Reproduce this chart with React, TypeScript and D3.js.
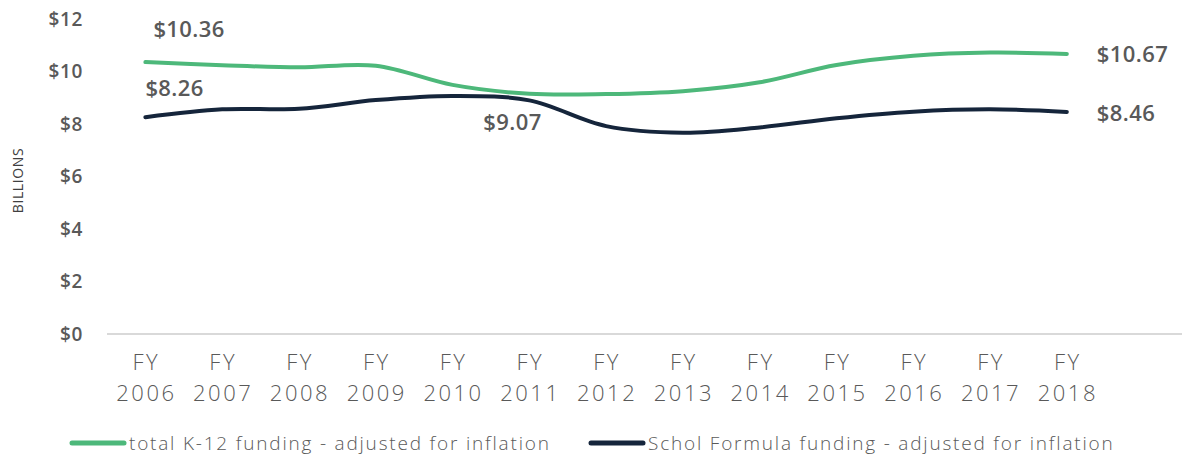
import React from "react";
import * as d3 from "d3";

const years = ["2006","2007","2008","2009","2010","2011","2012","2013","2014","2015","2016","2017","2018"];
const totalK12 = [10.36, 10.24, 10.16, 10.22, 9.49, 9.15, 9.14, 9.25, 9.59, 10.25, 10.6, 10.72, 10.67];
const schoolFormula = [8.26, 8.56, 8.58, 8.91, 9.07, 8.9, 7.92, 7.67, 7.87, 8.22, 8.47, 8.56, 8.46];
const yTicks = [0, 2, 4, 6, 8, 10, 12];
const seriesNames = ["total K-12 funding - adjusted for inflation", "Schol Formula funding - adjusted for inflation"];
const colors = ["#4DB87A", "#15253B"];

const W = 1183, H = 457;
const plotLeft = 107, plotRight = 1182, yTop = 19, yBottom = 334;
const FONT = "'Open Sans', sans-serif";
const GRAY = "#595959";

export default function App() {
  const slots = [...years, "_pad"];
  const x = d3.scaleBand<string>().domain(slots).range([plotLeft, plotRight]);
  const cx = (yr: string) => (x(yr) as number) + x.bandwidth() / 2;
  const y = d3.scaleLinear().domain([0, 12]).range([yBottom, yTop]);
  const line = d3.line<number>()
    .x((_, i) => cx(years[i]))
    .y((v) => y(v))
    .curve(d3.curveCatmullRom.alpha(0.5));

  const series = [totalK12, schoolFormula];
  const fmt = (v: number) => "$" + v.toFixed(2);
  const last = years.length - 1;

  return (
    <svg width={W} height={H} style={{ position: "absolute", left: 0, top: 0, background: "#fff" }}>
      <line x1={plotLeft} x2={plotRight} y1={y(0)} y2={y(0)} stroke="#D9D9D9" strokeWidth={2} />
      {yTicks.map((t) => (
        <text key={t} x={83} y={y(t)} dy="0.35em" textAnchor="end" fontFamily={FONT} fontSize={19} fontWeight={600} letterSpacing={0.6} fill={GRAY}>
          {"$" + t}
        </text>
      ))}
      <text transform={`translate(23,${(yTop + yBottom) / 2 + 4}) rotate(-90)`} textAnchor="middle" fontFamily={FONT} fontSize={14} letterSpacing={0.6} fill="#404040">
        BILLIONS
      </text>
      {years.map((yr) => (
        <g key={yr} fontFamily={FONT} fontSize={22} fontWeight={300} fill={GRAY} textAnchor="middle" letterSpacing={2.5}>
          <text x={cx(yr) + 1} y={y(0) + 36}>FY</text>
          <text x={cx(yr) + 1} y={y(0) + 67}>{yr}</text>
        </g>
      ))}
      {series.map((s, i) => (
        <path key={i} d={line(s) || ""} fill="none" stroke={colors[i]} strokeWidth={4} strokeLinecap="round" />
      ))}
      <g fontFamily={FONT} fontSize={22} fontWeight={600} letterSpacing={0.4} fill={GRAY}>
        <text x={cx(years[0]) + 8} y={y(totalK12[0]) - 25}>{fmt(totalK12[0])}</text>
        <text x={cx(years[0])} y={y(schoolFormula[0]) - 21}>{fmt(schoolFormula[0])}</text>
        <text x={cx(years[4]) + 60} y={y(schoolFormula[4]) + 34} textAnchor="middle">{fmt(schoolFormula[4])}</text>
        <text x={cx(years[last]) + 30} y={y(totalK12[last]) + 8}>{fmt(totalK12[last])}</text>
        <text x={cx(years[last]) + 30} y={y(schoolFormula[last]) + 9}>{fmt(schoolFormula[last])}</text>
      </g>
      {seriesNames.map((n, i) => {
        const lx = i === 0 ? 72 : 591;
        return (
          <g key={n}>
            <line x1={lx} x2={lx + 52} y1={443} y2={443} stroke={colors[i]} strokeWidth={5} strokeLinecap="round" />
            <text x={lx + 57} y={443} dy="0.35em" fontFamily={FONT} fontSize={19} fontWeight={300} letterSpacing={1.8} fill={GRAY}>{n}</text>
          </g>
        );
      })}
    </svg>
  );
}
